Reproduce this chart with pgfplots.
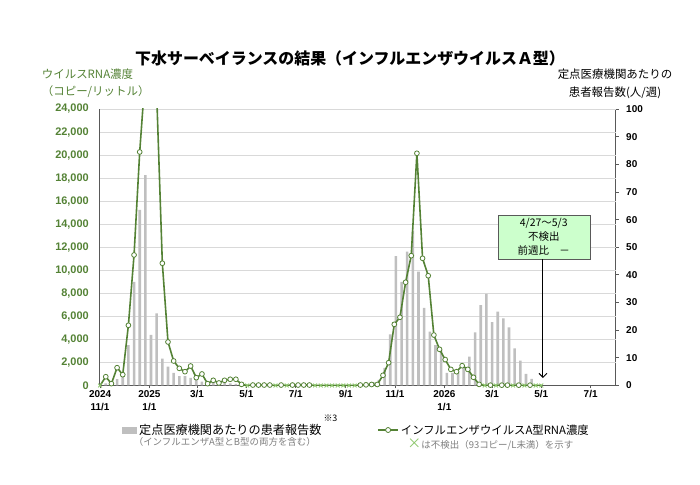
\documentclass[border=0pt]{standalone}
\usepackage{fontspec}
\setmainfont{Liberation Sans}
\newfontfamily\jp{Noto Sans CJK JP}
\usepackage{pgfplots}
\pgfplotsset{compat=1.18}
\usepackage{pgfplotstable}
\usetikzlibrary{arrows.meta}

\definecolor{rnagreen}{HTML}{548235}
\definecolor{ndgreen}{HTML}{8CC66B}
\definecolor{bargray}{HTML}{BFBFBF}
\definecolor{gridgray}{HTML}{D9D9D9}
\definecolor{axisgray}{HTML}{595959}
\definecolor{boxgreen}{HTML}{CCFFCC}
\definecolor{subgray}{HTML}{7F7F7F}

% patients per sentinel site (right axis), x = days since 2024-11-01
\pgfplotstableread{
day val
0 0.2
7 0.8
14 1.4
21 2.35
28 3.4
35 14.6
42 37.5
49 63.5
56 76.1
63 18.3
70 26.1
77 9.7
84 6.8
91 4.6
98 3.4
105 3.4
112 2.8
119 2.0
126 1.4
133 1.2
140 1.1
147 1.0
154 0.9
161 0.8
168 0.6
175 0.4
324 0.5
331 0.8
338 1.2
345 2.0
352 6.4
359 18.5
366 46.8
373 37.5
380 48.4
387 56.0
394 41.2
401 28.1
408 19.5
415 14.6
422 12.8
429 4.6
436 4.6
443 5.0
450 6.6
457 10.4
464 19.2
471 29.1
478 33.1
485 22.9
492 26.7
499 24.3
506 21.0
513 13.4
520 9.0
527 4.2
534 2.4
}\patients

% RNA concentration (left axis), c: d = detected, n = not detected
\pgfplotstableread{
day val c
0 0 n
7 760 d
14 160 d
21 1545 d
28 940 d
35 5225 d
42 11330 d
49 20270 d
56 27100 d
63 38000 d
70 25300 d
77 10610 d
84 3780 d
91 2130 d
98 1490 d
105 1200 d
112 1690 d
119 680 d
126 1000 d
133 160 d
140 450 d
147 220 d
154 450 d
161 540 d
168 540 d
175 100 d
182 0 n
189 40 d
196 40 d
203 40 d
210 40 d
217 0 n
224 40 d
231 0 n
238 40 d
245 40 d
252 40 d
259 40 d
266 0 n
273 0 n
280 0 n
287 0 n
294 0 n
301 0 n
308 0 n
315 0 n
322 40 d
329 60 d
336 90 d
343 90 d
350 885 d
357 1980 d
364 5310 d
371 5920 d
378 8960 d
385 11270 d
392 20155 d
399 11040 d
406 9530 d
413 4380 d
420 3140 d
427 2250 d
434 1400 d
441 1200 d
448 1720 d
455 1400 d
462 710 d
469 100 d
476 0 n
483 30 d
490 0 n
497 30 d
504 30 d
511 0 n
518 30 d
525 0 n
532 30 d
539 0 n
546 0 n
}\rna

\pgfplotsset{
  chartbox/.style={
    at={(99.3bp,99.5bp)}, anchor=south west,
    width=516.4bp, height=276.5bp, scale only axis,
    xmin=-1, xmax=638,
    axis line style={axisgray, line width=0.8bp},
    tick style={axisgray, line width=0.8bp},
  },
}

\begin{document}
\begin{tikzpicture}
\path[use as bounding box] (0bp,0bp) rectangle (700bp,485bp);

% right axis: patient reports (bars) + grid + x axis
\begin{axis}[
  chartbox,
  ymin=0, ymax=100,
  clip=false,
  axis x line*=bottom, axis y line*=right,
  tick align=outside, major tick length=3bp,
  xtick={0,61,120,181,242,304,365,426,485,546,607},
  xticklabels={{2024\\11/1},{2025\\1/1},3/1,5/1,7/1,9/1,11/1,{2026\\1/1},3/1,5/1,7/1},
  xticklabel style={font=\bfseries\fontsize{10}{13}\selectfont, align=center, anchor=north, inner sep=2bp},
  ytick={0,10,...,100},
  yticklabel style={font=\bfseries\fontsize{10}{12}\selectfont, anchor=west, xshift=4bp,
    /pgf/number format/assume math mode=true},
  extra y ticks={8.3333,16.6667,25,33.3333,41.6667,50,58.3333,66.6667,75,83.3333,91.6667,100},
  extra y tick labels={},
  extra y tick style={grid=major, major grid style={gridgray, line width=0.7bp}, major tick length=0pt},
  legend style={at={(axis description cs:0.044,-0.161)}, anchor=west, draw=none, fill=none,
    font=\jp\fontsize{12.2}{14}\selectfont, inner sep=0pt,
    /tikz/every even column/.append style={column sep=5bp}},
  legend cell align=left,
]
\addplot[ybar, bar width=3.2, fill=bargray, draw=none,
  legend image code/.code={\fill[bargray] (0bp,-3.5bp) rectangle (15bp,3.5bp);}]
  table[x=day, y=val] {\patients};
\addlegendentry{定点医療機関あたりの患者報告数}

\node[anchor=west, font=\jp\fontsize{9}{10}\selectfont] at (axis description cs:0.4274,-0.1175) {※3};
\node[anchor=west, text=subgray, font=\jp\fontsize{9.5}{11}\selectfont] at (axis description cs:0.060,-0.2043)
  {（インフルエンザA型とB型の両方を含む）};
\node[anchor=west, text=subgray, font=\jp\fontsize{9.5}{11}\selectfont] at (axis description cs:0.590,-0.2116)
  {{\color{ndgreen}\fontsize{14}{14}\selectfont ×}は不検出（93コピー/L未満）を示す};

\node[font=\jp\bfseries\fontsize{16}{18}\selectfont] at (axis description cs:0.4855,1.1844)
  {下水サーベイランスの結果（インフルエンザウイルスＡ型）};
\node[anchor=west, align=left, text=rnagreen, font=\jp\fontsize{11.5}{17}\selectfont] at (axis description cs:-0.118,1.092)
  {ウイルスRNA濃度\\（コピー/リットル）};
\node[align=center, font=\jp\fontsize{11.5}{18}\selectfont] at (axis description cs:0.9987,1.0904)
  {定点医療機関あたりの\\患者報告数(人/週)};
\end{axis}

% left axis: RNA concentration (line)
\begin{axis}[
  chartbox,
  ymin=0, ymax=24000,
  axis y line*=left, axis x line=none,
  major tick length=0pt,
  ytick={0,2000,...,24000},
  scaled y ticks=false,
  yticklabel style={font=\bfseries\fontsize{11}{12}\selectfont, text=rnagreen, xshift=-7bp,
    /pgf/number format/1000 sep={,}, /pgf/number format/assume math mode=true},
  legend style={at={(axis description cs:0.538,-0.161)}, anchor=west, draw=none, fill=none,
    font=\jp\fontsize{11.4}{14}\selectfont, inner sep=0pt,
    /tikz/every even column/.append style={column sep=3bp}},
  legend cell align=left,
]
\addplot[rnagreen, line width=1.6bp, forget plot,
  scatter, scatter src=explicit symbolic,
  scatter/classes={
    d={mark=*, mark size=2.4bp, draw=rnagreen, fill=white, line width=0.8bp},
    n={mark=x, mark size=2.7bp, draw=ndgreen, line width=0.9bp}}]
  table[x=day, y=val, meta=c] {\rna};
\addlegendimage{legend image code/.code={
  \draw[rnagreen, line width=1.6bp] (0bp,0bp) -- (20bp,0bp);
  \draw[rnagreen, fill=white, line width=0.8bp] (10bp,0bp) circle (2.5bp);}}
\addlegendentry{インフルエンザウイルスA型RNA濃度}

\node[draw=axisgray, fill=boxgreen, minimum width=92bp, minimum height=44bp, inner sep=1bp,
  align=center, font=\jp\fontsize{10.5}{14}\selectfont] at (axis cs:549,12890)
  {4/27～5/3\\不検出\\前週比\quad －};
\draw[-{Straight Barb[length=4bp]}, line width=1bp] (axis cs:548,10980) -- (axis cs:548,650);
\end{axis}
\end{tikzpicture}
\end{document}
